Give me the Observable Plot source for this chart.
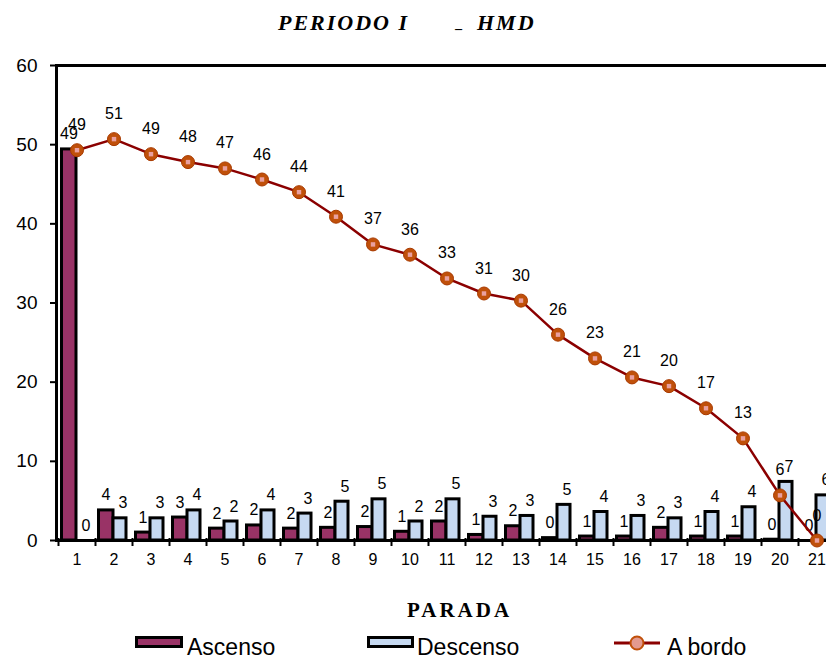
<!DOCTYPE html>
<html><head><meta charset="utf-8">
<script src="https://cdn.jsdelivr.net/npm/d3@7"></script>
<script src="https://cdn.jsdelivr.net/npm/@observablehq/plot@0.6"></script>
<style>
body{margin:0;background:#fff;}
#wrap{position:relative;width:826px;height:658px;overflow:hidden;background:#fff;}
#chart{position:absolute;left:0;top:0;}
#overlay{position:absolute;left:0;top:0;}
</style></head><body>
<div id="wrap"><div id="chart"></div><svg id="overlay" width="826" height="658"></svg></div>
<script>
// ---- data ----
const stops    = [1,2,3,4,5,6,7,8,9,10,11,12,13,14,15,16,17,18,19,20,21];
const ascenso  = [49.4,3.8,1.0,2.9,1.5,1.9,1.5,1.6,1.7,1.1,2.4,0.7,1.8,0.3,0.5,0.5,1.6,0.5,0.5,0.1,0];
const descenso = [0,2.8,2.8,3.8,2.4,3.8,3.4,4.9,5.2,2.4,5.2,3.0,3.1,4.5,3.6,3.1,2.8,3.6,4.2,7.4,5.7];
const aBordo   = [49.3,50.7,48.8,47.8,47.0,45.6,44.0,40.9,37.4,36.1,33.1,31.2,30.3,26.0,23.0,20.6,19.5,16.7,12.9,5.7,0];
const yTicks   = [0,10,20,30,40,50,60];
const seriesNames = ["Ascenso","Descenso","A bordo"];
const titleParts = ["PERIODO I","_","HMD"];
const xTitle = "PARADA";

const rows = stops.map((s,i)=>({stop:s, asc:ascenso[i], desc:descenso[i], abordo:aBordo[i]}));
const ASC = "#993366", DESC = "#C6D9F1", LINE = "#8B0000", MARK = "#C0500A";
const fmt = v => String(Math.round(v));

const chart = Plot.plot({
  width: 826, height: 658,
  marginLeft: 56, marginRight: -14, marginTop: 65, marginBottom: 118,
  style: {fontFamily: "'Liberation Sans', Arial, sans-serif", background: "#fff", color: "#000"},
  x: {type: "band", domain: stops, range: [58, 835], padding: 0, label: null},
  y: {domain: [0, 60], label: null},
  marks: [
    Plot.barY(rows, {x: "stop", y: "asc", fill: ASC, stroke: "#000", strokeWidth: 3, insetLeft: 3.5, insetRight: 19}),
    Plot.barY(rows, {x: "stop", y: "desc", fill: DESC, stroke: "#000", strokeWidth: 3, insetLeft: 18, insetRight: 6}),
    Plot.frame({stroke: "#000", strokeWidth: 3}),
    Plot.ruleX(rows, {x: "stop", dx: -18.5, y1: 0, y2: 0, insetTop: -2, insetBottom: -6, stroke: "#000", strokeWidth: 2}),
    Plot.axisY({ticks: yTicks, tickSize: 6, tickPadding: 13, fontSize: 19, strokeWidth: 2, color: "#000", label: null}),
    Plot.axisX({tickSize: 0, tickPadding: 13, fontSize: 16, color: "#000", label: null}),
    Plot.text(rows, {x: "stop", y: "asc", text: d => fmt(d.asc), dx: -8, dy: -10, lineAnchor: "bottom", fontSize: 16, fill: "#000"}),
    Plot.text(rows, {x: "stop", y: "desc", text: d => fmt(d.desc), dx: 9, dy: -10, lineAnchor: "bottom", fontSize: 16, fill: "#000"}),
    Plot.line(rows, {x: "stop", y: "abordo", stroke: LINE, strokeWidth: 2.5}),
    Plot.dot(rows, {x: "stop", y: "abordo", r: 6.5, fill: MARK, stroke: "#A83A00", strokeWidth: 1}),
    Plot.dot(rows, {x: "stop", y: "abordo", r: 2.5, symbol: "square", fill: "#E9A0A0", stroke: "none"}),
    Plot.text(rows, {x: "stop", y: "abordo", text: d => fmt(d.abordo), dy: -20, lineAnchor: "bottom", fontSize: 16, fill: "#000"})
  ]
});
document.getElementById("chart").appendChild(chart);

// ---- title, axis title, legend ----
const ov = d3.select("#overlay");
const serif = "'Liberation Serif', 'Times New Roman', serif";
const sans = "'Liberation Sans', Arial, sans-serif";
ov.append("text").attr("x", 278).attr("y", 30).attr("font-family", serif).attr("font-weight", "bold")
  .attr("font-style", "italic").attr("font-size", 22).attr("letter-spacing", 2).text(titleParts[0]);
ov.append("text").attr("x", 456).attr("y", 28).attr("font-family", serif).attr("font-weight", "bold")
  .attr("font-style", "italic").attr("font-size", 14).text(titleParts[1]);
ov.append("text").attr("x", 477).attr("y", 30).attr("font-family", serif).attr("font-weight", "bold")
  .attr("font-style", "italic").attr("font-size", 22).attr("letter-spacing", 2).text(titleParts[2]);
ov.append("text").attr("x", 407).attr("y", 617).attr("font-family", serif).attr("font-weight", "bold")
  .attr("font-size", 21).attr("letter-spacing", 3).text(xTitle);

// legend
ov.append("rect").attr("x", 136.5).attr("y", 637.5).attr("width", 45).attr("height", 9).attr("fill", ASC).attr("stroke", "#000").attr("stroke-width", 3);
ov.append("text").attr("x", 187).attr("y", 655).attr("font-family", sans).attr("font-size", 23).text(seriesNames[0]);
ov.append("rect").attr("x", 368.5).attr("y", 637.5).attr("width", 44).attr("height", 9).attr("fill", DESC).attr("stroke", "#000").attr("stroke-width", 3);
ov.append("text").attr("x", 417).attr("y", 655).attr("font-family", sans).attr("font-size", 23).text(seriesNames[1]);
ov.append("line").attr("x1", 614).attr("x2", 660).attr("y1", 643).attr("y2", 643).attr("stroke", LINE).attr("stroke-width", 3);
ov.append("circle").attr("cx", 637).attr("cy", 643).attr("r", 6.5).attr("fill", "#E39A90").attr("stroke", MARK).attr("stroke-width", 2);
ov.append("text").attr("x", 667).attr("y", 655).attr("font-family", sans).attr("font-size", 23).text(seriesNames[2]);
</script></body></html>
